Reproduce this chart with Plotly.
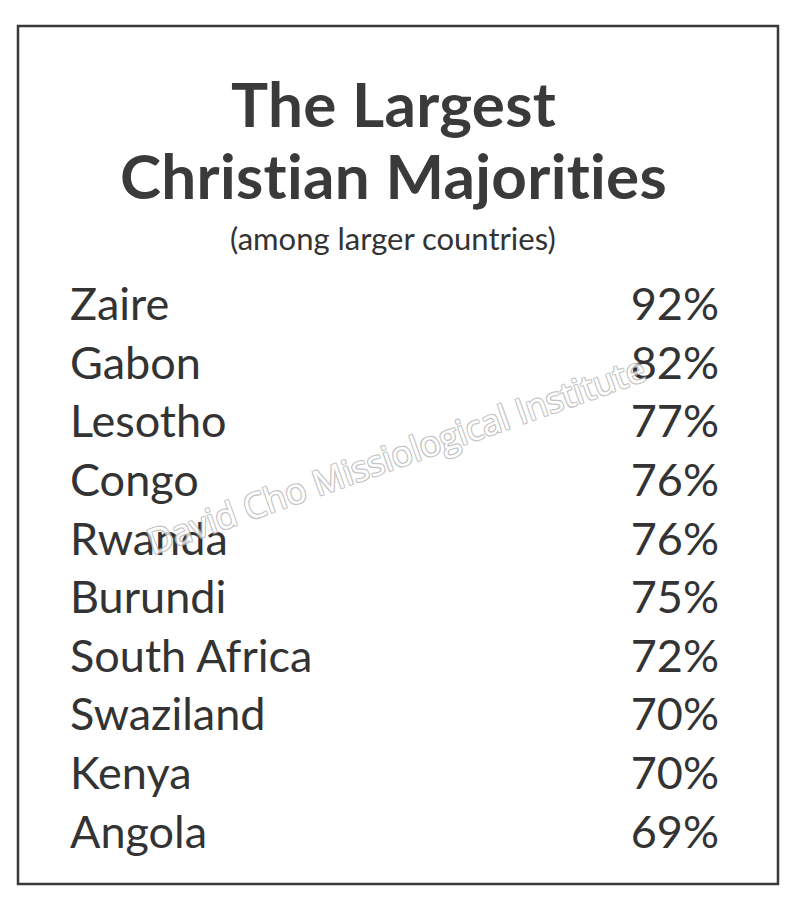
import plotly.graph_objects as go

# table data
countries = ["Zaire", "Gabon", "Lesotho", "Congo", "Rwanda",
             "Burundi", "South Africa", "Swaziland", "Kenya", "Angola"]
shares = [92, 82, 77, 76, 76, 75, 72, 70, 70, 69]

title_lines = ["The Largest", "Christian Majorities"]
subtitle = "(among larger countries)"
watermark = "David Cho Missiological Institute"

FONT = "Lato"
INK = "#333333"
W, H = 800, 900
OFF = 8  # page body margin shifts the plot by 8px


def px(x):
    return (x - OFF) / W


def py(y):
    return 1 - (y - OFF) / H


def no_lig(s):
    # a tiny letter-spacing stops the browser from using the "ti" ligature
    return f"<span style='letter-spacing:0.3px'>{s}</span>"


labels = [f"{v}%" for v in shares]

fig = go.Figure()
fig.add_trace(go.Scatter(
    x=[70 - OFF] * len(countries), y=countries, mode="text", text=countries,
    textposition="middle right",
    textfont=dict(family=FONT, size=45, color=INK),
    hoverinfo="skip", showlegend=False,
))
fig.add_trace(go.Scatter(
    x=[719 - OFF] * len(countries), y=countries, mode="text", text=labels,
    textposition="middle left",
    textfont=dict(family=FONT, size=45, color=INK),
    hoverinfo="skip", showlegend=False,
))

# frame
fig.add_shape(type="rect", xref="paper", yref="paper",
              x0=px(18), x1=px(778), y0=py(884), y1=py(26),
              line=dict(color="#3a3a3a", width=2.5), fillcolor="rgba(0,0,0,0)")

fig.add_annotation(text=no_lig(title_lines[0]), xref="paper", yref="paper",
                   x=px(393), y=py(103), xanchor="center", yanchor="middle",
                   showarrow=False,
                   font=dict(family=FONT, size=62, color="#3a3a3a", weight="bold"))
fig.add_annotation(text=no_lig(title_lines[1]), xref="paper", yref="paper",
                   x=px(393), y=py(175), xanchor="center", yanchor="middle",
                   showarrow=False,
                   font=dict(family=FONT, size=62, color="#3a3a3a", weight="bold"))
fig.add_annotation(text=subtitle, xref="paper", yref="paper",
                   x=px(393), y=py(238), xanchor="center", yanchor="middle",
                   showarrow=False,
                   font=dict(family=FONT, size=31, color=INK))

# watermark, outlined look via text shadow
fig.add_annotation(text=watermark, xref="paper", yref="paper",
                   x=px(396), y=py(455), xanchor="center", yanchor="middle",
                   showarrow=False, textangle=-19.5, opacity=0.75,
                   font=dict(family="Open Sans", size=35, color="white",
                             shadow="1px 1px 0 #b0b0b0, -1px -1px 0 #b0b0b0, "
                                    "1px -1px 0 #b0b0b0, -1px 1px 0 #b0b0b0"))

row0, step = 309 - OFF, 58.6
fig.update_layout(
    width=W, height=H,
    margin=dict(l=0, r=0, t=0, b=0),
    paper_bgcolor="white", plot_bgcolor="white",
    xaxis=dict(range=[0, W], visible=False, fixedrange=True),
    yaxis=dict(type="category", categoryorder="array", categoryarray=countries,
               range=[(H - row0) / step, -row0 / step],
               visible=False, fixedrange=True),
)

fig.write_html("out.html")
